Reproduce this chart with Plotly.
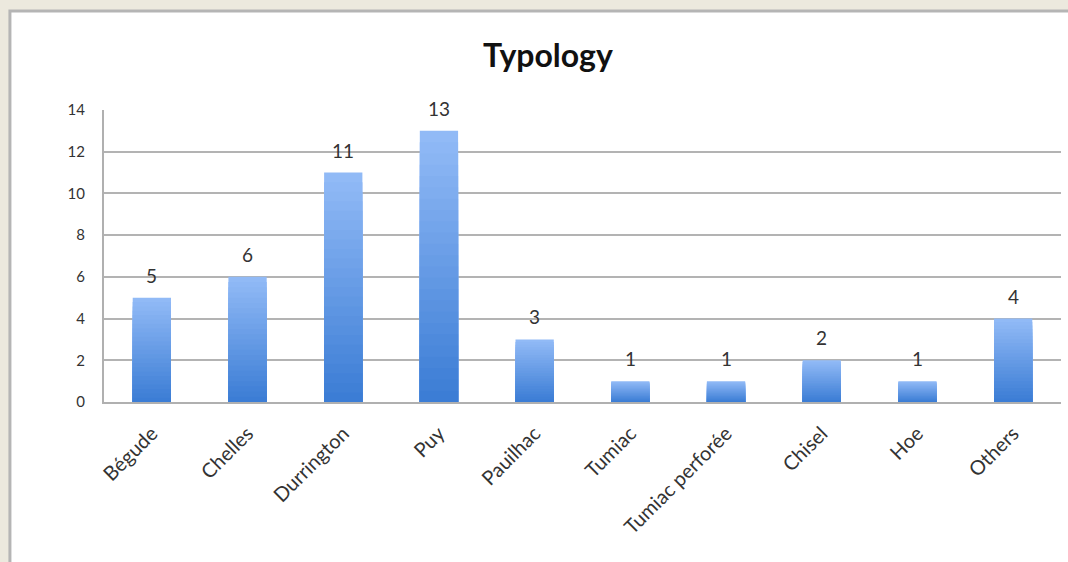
import plotly.graph_objects as go

categories = ['Bégude', 'Chelles', 'Durrington', 'Puy', 'Pauilhac', 'Tumiac',
              'Tumiac perforée', 'Chisel', 'Hoe', 'Others']
counts = [5, 6, 11, 13, 3, 1, 1, 2, 1, 4]

light = (145, 186, 246)
dark = (60, 125, 213)
n_layers = 24

fig = go.Figure()

# fake a vertical gradient by stacking overlaid bars, light on top, dark at bottom
for i in range(n_layers):
    frac = 1 - i / n_layers
    t = i / (n_layers - 1)
    col = 'rgb(%d,%d,%d)' % tuple(round(l * (1 - t) + d * t) for l, d in zip(light, dark))
    fig.add_trace(go.Bar(
        x=categories,
        y=[v * frac for v in counts],
        marker=dict(color=col, line=dict(width=0)),
        hoverinfo='skip' if i else None,
        showlegend=False,
    ))

# value labels sit a bit higher than plotly's outside text
for c, v in zip(categories, counts):
    fig.add_annotation(x=c, y=v, text=str(v), showarrow=False,
                       yanchor='bottom', yshift=9,
                       font=dict(size=19, color='#333333'))

fig.update_layout(
    barmode='overlay',
    bargap=0.6,
    width=1068, height=562,
    margin=dict(l=104, r=7, t=110, b=160),
    paper_bgcolor='#ece9de',
    plot_bgcolor='white',
    font=dict(family='Lato, Open Sans, sans-serif', color='#333333'),
    title=dict(text='<b>Typology</b>', x=0.513, xanchor='center', y=0.9,
               yanchor='middle', font=dict(size=32, color='#111111')),
    shapes=[dict(type='rect', xref='paper', yref='paper',
                 x0=-0.0983, x1=1.05, y0=-0.7, y1=1.339,
                 fillcolor='white', line=dict(color='#b5b5b5', width=3),
                 layer='below')],
    xaxis=dict(tickangle=-45, tickfont=dict(size=20, color='#333333'),
               showline=True, linecolor='#b0b0b0', linewidth=2,
               ticks='outside', ticklen=10, tickcolor='rgba(0,0,0,0)',
               showgrid=False),
    yaxis=dict(range=[0, 14], dtick=2, tickfont=dict(size=15, color='#333333'),
               showgrid=True, gridcolor='#b3b3b3', gridwidth=2,
               showline=True, linecolor='#b0b0b0', linewidth=2,
               zeroline=False, ticks='outside', ticklen=14,
               tickcolor='rgba(0,0,0,0)'),
)

fig.write_html("out.html", config={'displayModeBar': False},
               post_script="document.body.style.margin='0';"
                           "document.body.style.overflow='hidden';")
